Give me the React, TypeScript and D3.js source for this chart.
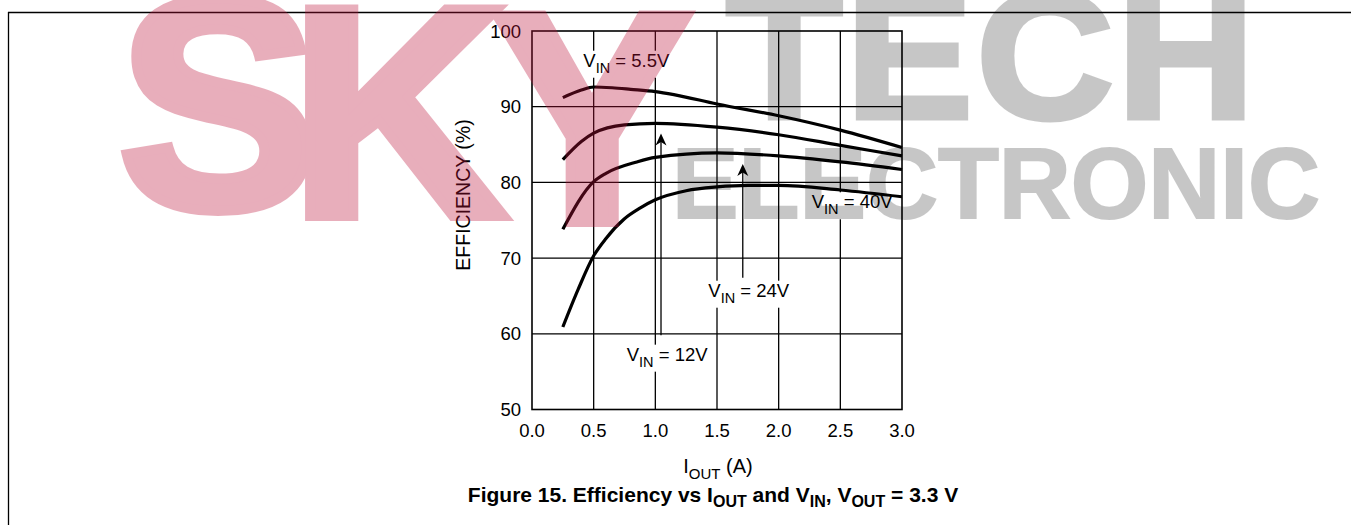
import React, { useEffect, useRef } from "react";
import * as d3 from "d3";

const W = 1351;
const H = 525;

const xTicks = [0, 0.5, 1.0, 1.5, 2.0, 2.5, 3.0];
const yTicks = [50, 60, 70, 80, 90, 100];

const iout55 = [0.25, 0.4, 0.5, 0.65, 0.8, 1.0, 1.15, 1.5, 2.0, 2.5, 3.0];
const eff55 = [91.2, 92.2, 92.6, 92.5, 92.3, 92.0, 91.6, 90.35, 88.8, 86.9, 84.6];
const iout12 = [0.25, 0.4, 0.5, 0.75, 1.0, 1.5, 2.0, 2.5, 3.0];
const eff12 = [83.0, 85.4, 86.5, 87.6, 87.8, 87.3, 86.3, 84.9, 83.5];
const iout24 = [0.25, 0.5, 0.6, 0.85, 1.0, 1.5, 2.0, 2.5, 3.0];
const eff24 = [73.8, 80.1, 81.2, 82.7, 83.3, 83.9, 83.5, 82.7, 81.7];
const iout40 = [0.25, 0.375, 0.5, 0.6, 0.75, 0.875, 1.0, 1.25, 1.5, 1.75, 2.0, 2.5, 3.0];
const eff40 = [60.9, 65.9, 70.3, 72.6, 75.2, 76.6, 77.7, 78.9, 79.4, 79.6, 79.6, 79.0, 78.1];

const seriesNames = ["5.5V", "12V", "24V", "40V"];
const seriesI = [iout55, iout12, iout24, iout40];
const seriesE = [eff55, eff12, eff24, eff40];

// label anchors (data units: current, efficiency)
const labelI = [0.416, 0.768, 1.43, 2.268];
const labelE = [95.28, 56.45, 64.9, 76.58];
// arrows (data units)
const arrowI = [null, 1.046, 1.709, null];
const arrowFrom = [null, 59.8, 67.4, null];
const arrowTo = [null, 86.46, 82.43, null];

const wmSky = ["S", "K", "Y"];
const wmTech = "TECH";
const wmElectronic = "ELECTRONIC";

const FONT = "'Liberation Sans', Arial, Helvetica, sans-serif";

export default function App() {
  const ref = useRef<SVGSVGElement | null>(null);

  useEffect(() => {
    const svg = d3.select(ref.current);
    svg.selectAll("*").remove();

    const x = d3.scaleLinear().domain([0, 3]).range([532, 902]);
    const y = d3.scaleLinear().domain([50, 100]).range([409.5, 31]);

    svg.append("rect").attr("width", W).attr("height", H).attr("fill", "#fff");

    // frame
    svg.append("line").attr("x1", 8).attr("x2", W).attr("y1", 12.5).attr("y2", 12.5)
      .attr("stroke", "#000").attr("stroke-width", 1.3);
    svg.append("line").attr("x1", 8.5).attr("x2", 8.5).attr("y1", 12).attr("y2", H)
      .attr("stroke", "#000").attr("stroke-width", 1.3);

    const g = svg.append("g");

    // grid
    g.selectAll("line.vg").data(xTicks.slice(1, -1)).join("line")
      .attr("x1", (d) => x(d)).attr("x2", (d) => x(d))
      .attr("y1", y(100)).attr("y2", y(50))
      .attr("stroke", "#000").attr("stroke-width", 1.3);
    g.selectAll("line.hg").data(yTicks.slice(1, -1)).join("line")
      .attr("x1", x(0)).attr("x2", x(3))
      .attr("y1", (d) => y(d)).attr("y2", (d) => y(d))
      .attr("stroke", "#000").attr("stroke-width", 1.3);

    // labels with white backgrounds (break the grid)
    seriesNames.forEach((name, i) => {
      const lx = x(labelI[i]);
      const ly = y(labelE[i]);
      const t = g.append("text").attr("x", lx).attr("y", ly)
        .attr("font-family", FONT).attr("font-size", 18.5).attr("fill", "#000");
      t.append("tspan").text("V");
      t.append("tspan").attr("dy", 6).attr("font-size", 14.5).text("IN");
      t.append("tspan").attr("dy", -6).text(" = " + name);
      const bb = (t.node() as SVGTextElement).getBBox();
      g.insert("rect", () => t.node())
        .attr("x", bb.x - 2).attr("y", bb.y + 1).attr("width", bb.width + 4).attr("height", bb.height + 1)
        .attr("fill", "#fff");
    });

    // plot border
    g.append("rect").attr("x", x(0)).attr("y", y(100))
      .attr("width", x(3) - x(0)).attr("height", y(50) - y(100))
      .attr("fill", "none").attr("stroke", "#000").attr("stroke-width", 1.6);

    // tick labels
    g.selectAll("text.yt").data(yTicks).join("text")
      .attr("x", x(0) - 11).attr("y", (d) => y(d) + 6.5)
      .attr("text-anchor", "end").attr("font-family", FONT).attr("font-size", 18.5)
      .attr("fill", "#000").text((d) => String(d));
    g.selectAll("text.xt").data(xTicks).join("text")
      .attr("x", (d) => x(d)).attr("y", 437)
      .attr("text-anchor", "middle").attr("font-family", FONT).attr("font-size", 18.5)
      .attr("fill", "#000").text((d) => d.toFixed(1));

    // curves
    const line = d3.line<[number, number]>()
      .x((d) => x(d[0])).y((d) => y(d[1]))
      .curve(d3.curveMonotoneX);
    seriesI.forEach((xs, i) => {
      const pts = xs.map((v, j) => [v, seriesE[i][j]] as [number, number]);
      g.append("path").attr("d", line(pts)!).attr("fill", "none")
        .attr("stroke", "#000").attr("stroke-width", 3.2).attr("stroke-linecap", "butt");
    });

    // arrows
    arrowI.forEach((ai, i) => {
      if (ai == null) return;
      const ax = x(ai);
      const y0 = y(arrowFrom[i]!);
      const y1 = y(arrowTo[i]!);
      g.append("line").attr("x1", ax).attr("x2", ax).attr("y1", y0).attr("y2", y1 + 4)
        .attr("stroke", "#000").attr("stroke-width", 1.3);
      g.append("path")
        .attr("d", `M${ax},${y1} L${ax - 5.5},${y1 + 12} L${ax},${y1 + 8.5} L${ax + 5.5},${y1 + 12} Z`)
        .attr("fill", "#000");
    });

    // y axis title
    g.append("text").attr("transform", `translate(470,195) rotate(-90)`)
      .attr("text-anchor", "middle").attr("font-family", FONT).attr("font-size", 19.5)
      .attr("fill", "#000").text("EFFICIENCY (%)");

    // x axis title
    const xt = g.append("text").attr("x", 718).attr("y", 473).attr("text-anchor", "middle")
      .attr("font-family", FONT).attr("font-size", 20).attr("fill", "#000");
    xt.append("tspan").text("I");
    xt.append("tspan").attr("dy", 6).attr("font-size", 15).text("OUT");
    xt.append("tspan").attr("dy", -6).text(" (A)");

    // caption
    const cap = g.append("text").attr("x", 713).attr("y", 502).attr("text-anchor", "middle")
      .attr("font-family", FONT).attr("font-size", 21).attr("font-weight", "bold").attr("fill", "#000");
    cap.append("tspan").text("Figure 15. Efficiency vs I");
    cap.append("tspan").attr("dy", 5).attr("font-size", 16).text("OUT");
    cap.append("tspan").attr("dy", -5).text(" and V");
    cap.append("tspan").attr("dy", 5).attr("font-size", 16).text("IN");
    cap.append("tspan").attr("dy", -5).text(", V");
    cap.append("tspan").attr("dy", 5).attr("font-size", 16).text("OUT");
    cap.append("tspan").attr("dy", -5).text(" = 3.3 V");

    // watermark overlay
    const wmPink = svg.append("g").attr("opacity", 0.34).attr("fill", "rgb(190,20,60)")
      .attr("stroke", "rgb(190,20,60)").attr("stroke-width", 10).attr("stroke-linejoin", "miter")
      .attr("font-family", FONT).attr("font-weight", "bold").attr("font-size", 300);
    const skyX = [118, 290, 492];
    const skyY = [208, 216, 222];
    wmSky.forEach((ch, i) => {
      wmPink.append("text").attr("x", skyX[i]).attr("y", skyY[i]).text(ch);
    });

    const wmGray = svg.append("g").attr("opacity", 0.22).attr("fill", "#000")
      .attr("font-family", FONT).attr("font-weight", "bold");
    wmGray.append("text").attr("transform", "translate(726,118) scale(1.06,1)")
      .attr("font-size", 180).attr("stroke", "#000").attr("stroke-width", 5)
      .attr("letter-spacing", 3).text(wmTech);
    wmGray.append("text").attr("transform", "translate(672,218)")
      .attr("font-size", 100).attr("stroke", "#000").attr("stroke-width", 2)
      .attr("textLength", 648).attr("lengthAdjust", "spacingAndGlyphs").text(wmElectronic);
  }, []);

  return (
    <svg ref={ref} width={W} height={H}
      style={{ position: "absolute", left: 0, top: 0, display: "block" }} />
  );
}
